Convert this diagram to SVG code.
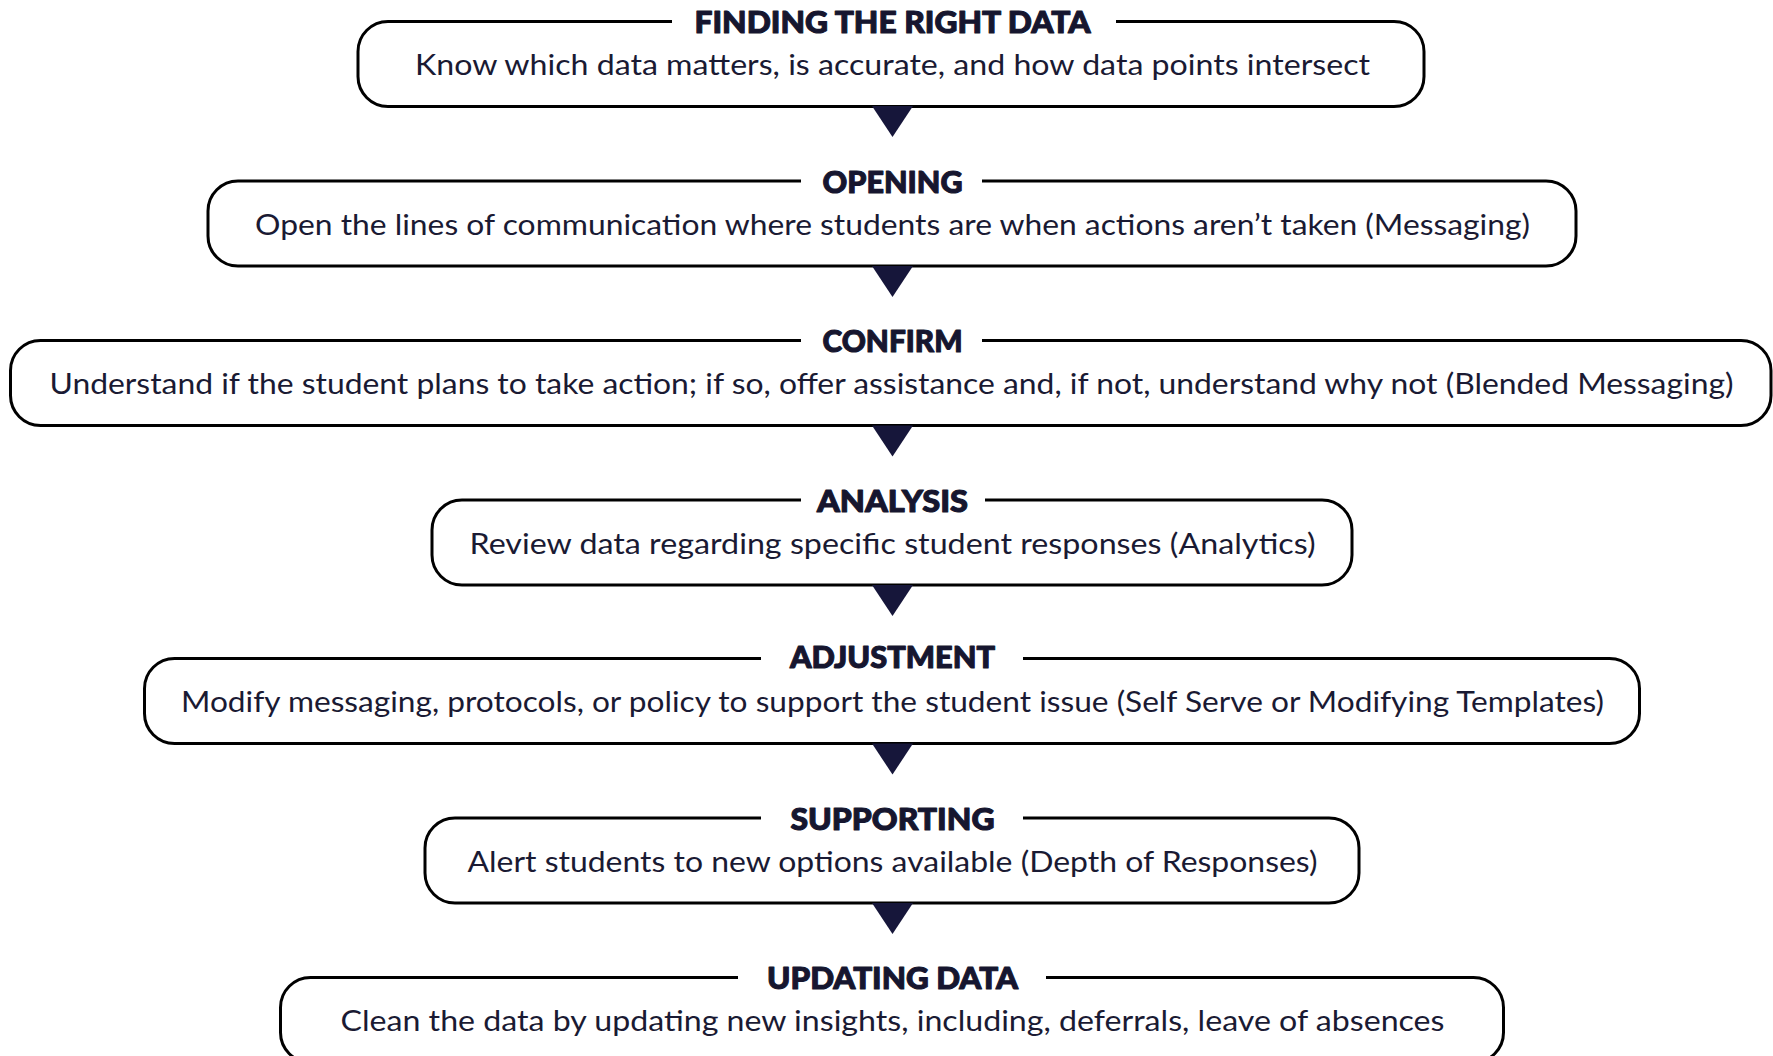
<svg xmlns="http://www.w3.org/2000/svg" width="1773" height="1056" viewBox="0 0 1773 1056">
  <style>
    .box { fill: #ffffff; stroke: #000000; stroke-width: 3; }
    .gap { fill: #ffffff; stroke: none; }
    .title { font-family: Lato, "Liberation Sans", sans-serif; font-weight: 900; font-size: 31px; fill: #16162f; stroke: #16162f; stroke-width: 1.1; stroke-linejoin: round; text-anchor: middle; }
    .body { font-family: Lato, "Liberation Sans", sans-serif; font-weight: 400; font-size: 28px; fill: #1a1a33; text-anchor: middle; }
    .arrow { fill: #16163a; }
  </style>
  <rect width="1773" height="1056" fill="#ffffff"/>

  <!-- step boxes: rounded frame, white break in the top edge for the heading, heading, description -->
  <g id="finding-the-right-data">
    <rect class="box" x="358" y="21.5" width="1066" height="85" rx="30"/>
    <rect class="gap" x="672" y="15" width="444" height="14"/>
    <text class="title" x="892.5" y="32.5" textLength="396" lengthAdjust="spacingAndGlyphs">FINDING THE RIGHT DATA</text>
    <text class="body" x="892.5" y="75" textLength="955" lengthAdjust="spacingAndGlyphs">Know which data matters, is accurate, and how data points intersect</text>
  </g>

  <g id="opening">
    <rect class="box" x="208" y="181" width="1368" height="85" rx="30"/>
    <rect class="gap" x="801" y="174" width="181" height="14"/>
    <text class="title" x="892.5" y="192.5" textLength="140" lengthAdjust="spacingAndGlyphs">OPENING</text>
    <text class="body" x="892.5" y="234.5" textLength="1275" lengthAdjust="spacingAndGlyphs">Open the lines of communication where students are when actions aren’t taken (Messaging)</text>
  </g>

  <g id="confirm">
    <rect class="box" x="10.5" y="340.5" width="1760.5" height="85" rx="30"/>
    <rect class="gap" x="801" y="333" width="181" height="14"/>
    <text class="title" x="892.5" y="352" textLength="140" lengthAdjust="spacingAndGlyphs">CONFIRM</text>
    <text class="body" x="891.5" y="394" textLength="1684" lengthAdjust="spacingAndGlyphs">Understand if the student plans to take action; if so, offer assistance and, if not, understand why not (Blended Messaging)</text>
  </g>

  <g id="analysis">
    <rect class="box" x="432" y="500" width="920" height="85" rx="30"/>
    <rect class="gap" x="801" y="493" width="184" height="14"/>
    <text class="title" x="892.5" y="511.5" textLength="151" lengthAdjust="spacingAndGlyphs">ANALYSIS</text>
    <text class="body" x="892.5" y="553.5" textLength="846" lengthAdjust="spacingAndGlyphs">Review data regarding specific student responses (Analytics)</text>
  </g>

  <g id="adjustment">
    <rect class="box" x="144.5" y="658.5" width="1495" height="85" rx="30"/>
    <rect class="gap" x="761" y="651" width="262" height="14"/>
    <text class="title" x="892.5" y="667.5" textLength="205" lengthAdjust="spacingAndGlyphs">ADJUSTMENT</text>
    <text class="body" x="892.5" y="712" textLength="1423" lengthAdjust="spacingAndGlyphs">Modify messaging, protocols, or policy to support the student issue (Self Serve or Modifying Templates)</text>
  </g>

  <g id="supporting">
    <rect class="box" x="425" y="818" width="934" height="85" rx="30"/>
    <rect class="gap" x="761" y="811" width="262" height="14"/>
    <text class="title" x="892.5" y="829.5" textLength="204" lengthAdjust="spacingAndGlyphs">SUPPORTING</text>
    <text class="body" x="892.5" y="871.5" textLength="850" lengthAdjust="spacingAndGlyphs">Alert students to new options available (Depth of Responses)</text>
  </g>

  <g id="updating-data">
    <rect class="box" x="280.5" y="977.5" width="1223" height="85" rx="30"/>
    <rect class="gap" x="738" y="970" width="308" height="14"/>
    <text class="title" x="892.5" y="989" textLength="251" lengthAdjust="spacingAndGlyphs">UPDATING DATA</text>
    <text class="body" x="892.5" y="1031" textLength="1104" lengthAdjust="spacingAndGlyphs">Clean the data by updating new insights, including, deferrals, leave of absences</text>
  </g>

  <!-- downward pointers hanging from each box's bottom edge -->
  <g id="connectors">
    <polygon class="arrow" points="872,106 913,106 892.5,137"/>
    <polygon class="arrow" points="872,266 913,266 892.5,297"/>
    <polygon class="arrow" points="872,425.5 913,425.5 892.5,456.5"/>
    <polygon class="arrow" points="872,585 913,585 892.5,616"/>
    <polygon class="arrow" points="872,743.5 913,743.5 892.5,774.5"/>
    <polygon class="arrow" points="872,903 913,903 892.5,934"/>
  </g>
</svg>
